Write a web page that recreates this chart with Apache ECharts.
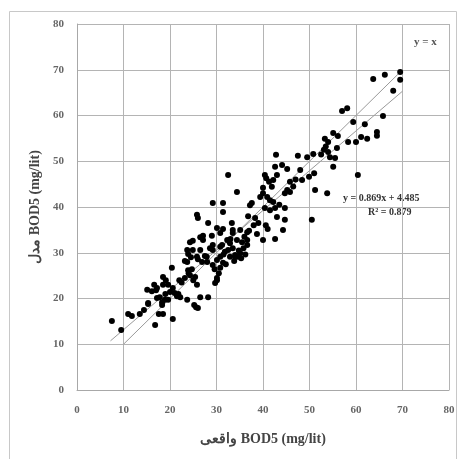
<!DOCTYPE html>
<html><head><meta charset="utf-8">
<script src="https://cdn.jsdelivr.net/npm/echarts@6/dist/echarts.min.js"></script>
<style>html,body{margin:0;padding:0;background:#fff}#c{width:462px;height:459px}</style>
</head><body><div id="c"></div>
<script>
// Observed (x) vs model (y) BOD5 values, mg/lit
const actualValues = [
7.5,9.5,11.0,11.8,13.5,14.4,15.3,15.1,16.1,16.8,16.6,17.2,17.6,18.5,17.2,17.8,18.3,18.9,18.5,19.1,18.5,19.6,20.0,19.6,18.3,15.3,17.0,19.0,
20.6,20.4,20.6,21.5,22.2,21.8,23.7,25.2,25.6,26.0,26.5,28.2,25.8,25.4,24.3,23.2,23.9,24.7,23.7,23.9,23.2,25.8,24.3,24.9,26.5,27.1,27.9,26.9,28.6,29.2,29.2,29.7,25.8,26.0,28.2,29.2,24.0,25.0,22.5,26.5,27.5,26.0,23.7,24.9,29.0,27.1,29.2,28.0,22.0,21.0,24.5,29.6,
30.1,30.1,30.8,30.8,31.4,31.8,32.9,32.9,33.5,34.0,34.6,35.1,34.4,35.5,36.6,36.6,38.7,32.3,31.2,30.8,33.5,36.6,30.1,31.4,33.3,33.5,35.1,31.4,31.4,32.5,34.4,37.6,37.2,36.8,38.3,30.1,30.5,32.5,34.0,30.8,31.5,33.0,34.8,35.8,36.0,37.0,38.0,39.4,39.0,32.0,33.8,35.3,36.2,
40.0,42.6,44.3,40.4,40.7,41.3,41.9,43.0,42.2,40.0,40.0,40.9,41.5,42.2,42.6,40.4,41.5,44.7,44.7,43.0,42.8,42.6,44.1,45.2,45.8,45.8,45.2,44.7,47.5,49.5,48.0,48.4,49.9,40.6,41.0,43.5,46.5,47.0,
50.8,51.0,51.2,53.8,50.5,53.3,54.0,53.1,54.0,55.9,54.4,55.5,55.1,55.1,56.1,58.3,60.0,61.1,62.4,64.5,64.5,59.4,61.9,57.0,58.1,60.4,65.8,68.0,63.7,66.2,69.5,69.5,53.5,52.5
];
const modelValues = [
15.1,13.1,16.6,16.2,16.6,17.5,18.8,21.9,21.6,14.2,23.0,22.3,16.6,16.6,20.1,20.3,19.2,19.7,24.7,24.0,23.0,23.0,21.4,19.7,18.6,19.0,21.8,21.0,
15.5,26.7,22.3,20.5,20.3,21.0,19.7,18.6,18.1,17.9,20.3,20.3,23.0,24.7,25.1,24.5,26.2,26.4,28.0,29.7,28.2,29.1,32.3,32.6,33.4,32.8,29.1,28.0,31.0,31.7,27.3,23.4,38.3,37.6,36.5,40.9,25.5,24.0,23.5,30.6,29.3,28.6,30.6,30.6,33.7,33.7,30.6,28.0,24.0,21.2,29.0,26.4,
24.0,28.4,29.1,26.7,27.8,30.2,29.1,32.1,31.0,29.5,29.1,29.9,32.8,32.3,32.8,31.7,34.1,32.8,31.7,34.3,34.3,34.5,35.4,35.2,36.5,35.0,35.0,40.9,38.9,47.0,43.3,40.9,40.4,38.0,37.6,24.5,25.5,30.6,29.1,31.3,29.6,33.0,30.5,31.0,33.5,34.8,36.0,42.2,36.5,27.5,28.2,28.8,29.6,
32.8,33.0,35.0,47.0,46.3,45.5,44.4,47.0,45.9,44.2,43.0,42.2,41.5,41.1,39.8,39.8,39.3,39.8,37.2,37.8,51.4,48.8,49.2,48.3,45.5,43.3,43.7,43.0,51.2,50.9,48.1,45.9,46.6,36.0,35.2,40.5,44.5,46.0,
51.6,47.4,43.7,43.0,37.2,54.9,54.2,52.5,52.0,52.9,50.9,50.7,48.8,56.2,55.5,54.2,54.2,55.3,54.9,56.4,55.6,58.6,58.1,61.0,61.6,47.0,59.9,65.4,68.0,68.9,69.5,67.8,53.2,51.5
];
const axisTicks = [0,10,20,30,40,50,60,70,80];
const identityRange = [10, 70];
const trendSlope = 0.869, trendIntercept = 4.485;
const trendRange = [7.2, 70];

const points = actualValues.map((x, i) => [x, modelValues[i]]);
const identityLine = identityRange.map(v => [v, v]);
const trendLine = trendRange.map(v => [v, trendSlope * v + trendIntercept]);

const font = '"Liberation Serif", "DejaVu Serif", serif';
const chart = echarts.init(document.getElementById('c'), null, {renderer: 'canvas'});
const axisCommon = {
  min: axisTicks[0], max: axisTicks[axisTicks.length - 1], interval: 10,
  axisLine: {show: true, lineStyle: {color: '#a8a8a8', width: 1}},
  axisTick: {show: false},
  splitLine: {show: true, lineStyle: {color: '#b4b4b4', width: 1}},
  axisLabel: {color: '#666', fontFamily: font, fontSize: 11, fontWeight: 'bold'},
  nameLocation: 'middle',
  nameTextStyle: {color: '#444', fontFamily: font, fontSize: 14, fontWeight: 'bold'}
};
chart.setOption({
  animation: false,
  backgroundColor: '#fff',
  grid: {left: 77, right: 13, top: 24, bottom: 69, containLabel: false},
  xAxis: Object.assign({}, axisCommon, {type: 'value', name: 'واقعی BOD5 (mg/lit)', nameGap: 42,
    axisLabel: Object.assign({}, axisCommon.axisLabel, {margin: 15})}),
  yAxis: Object.assign({}, axisCommon, {type: 'value', name: 'مدل BOD5 (mg/lit)', nameGap: 32,
    axisLabel: Object.assign({}, axisCommon.axisLabel, {margin: 13})}),
  graphic: [
    {type: 'rect', left: 7, top: 9, shape: {width: 447, height: 455}, style: {fill: 'none', stroke: '#c8c8c8', lineWidth: 1}, silent: true, z: -1},
    {type: 'text', left: 414, top: 37, style: {text: 'y = x', fill: '#555', font: 'bold 11px ' + font}},
    {type: 'text', left: 343, top: 193, style: {text: 'y = 0.869x + 4.485', fill: '#333', font: 'bold 10px ' + font}},
    {type: 'text', left: 368, top: 207, style: {text: 'R² = 0.879', fill: '#333', font: 'bold 10px ' + font}}
  ],
  series: [
    {type: 'line', data: identityLine, symbol: 'none', lineStyle: {color: '#9a9a9a', width: 1}, z: 3},
    {type: 'line', data: trendLine, symbol: 'none', lineStyle: {color: '#9a9a9a', width: 1}, z: 3},
    {type: 'scatter', data: points, symbol: 'circle', symbolSize: 6, itemStyle: {color: '#000', opacity: 1}, z: 4}
  ]
});
</script></body></html>
